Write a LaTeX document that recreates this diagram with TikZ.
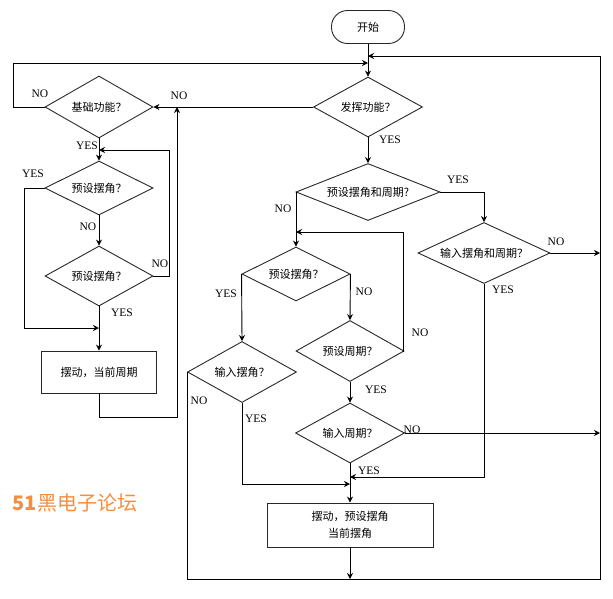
\documentclass[tikz,border=0pt]{standalone}
\usepackage{fontspec}
\setmainfont{Liberation Serif}
\newfontfamily\cjk{Noto Sans CJK SC}
\usetikzlibrary{arrows.meta,shapes.geometric,calc}
\definecolor{fcOrange}{RGB}{246,142,62}
\definecolor{fcLine}  {RGB}{ 40, 40, 40}

\begin{document}
\begin{tikzpicture}[x=1pt,y=-1pt,
  every node/.style={font=\fontsize{11}{13}\selectfont},
  >={Stealth[length=6pt,width=6pt]},
  line width=0.9pt,
  term/.style={draw=fcLine,rounded corners=16pt,minimum width=73pt,
               minimum height=33pt,font=\cjk\fontsize{11}{13}\selectfont},
  dec/.style ={draw=fcLine,diamond,aspect=2.2,inner sep=0pt,
               font=\cjk\fontsize{11}{13}\selectfont},
  proc/.style={draw=fcLine,rectangle,align=center,
               font=\cjk\fontsize{11}{17}\selectfont},
  lbl/.style ={inner sep=0pt,font=\fontsize{11.5}{13}\selectfont}
]
\useasboundingbox (0,0) rectangle (613,598);

% main column
\node[term] (start) at (368,27) {开始};
\node[dec,minimum width=109pt,minimum height=60pt] (fa)   at (368,107) {发挥功能？};
\node[dec,minimum width=144pt,minimum height=57pt] (ysAP) at (368,192) {预设摆角和周期?};
\node[dec,minimum width=132pt,minimum height=61pt] (srAP) at (484,253) {输入摆角和周期？};
\node[dec,minimum width=108pt,minimum height=54pt] (ysA)  at (296,274) {预设摆角？};
\node[dec,minimum width=108pt,minimum height=61pt] (ysP)  at (350,351) {预设周期？};
\node[dec,minimum width=109pt,minimum height=61pt] (srA)  at (242,372) {输入摆角？};
\node[dec,minimum width=109pt,minimum height=60pt] (srP)  at (350,433) {输入周期？};
\node[proc,minimum width=166pt,minimum height=44pt] (boxR) at (350,525) {摆动，预设摆角\\当前摆角};

% basic column
\node[dec,minimum width=108pt,minimum height=62pt] (jc)   at (99,107) {基础功能？};
\node[dec,minimum width=108pt,minimum height=54pt] (ysL1) at (99,188) {预设摆角？};
\node[dec,minimum width=108pt,minimum height=60pt] (ysL2) at (99,276) {预设摆角？};
\node[proc,minimum width=115pt,minimum height=42pt] (boxL) at (99,372) {摆动，当前周期};

\node[font=\cjk\fontsize{20}{22}\selectfont,text=fcOrange] (mark) at (75,503) {\textbf{51}黑电子论坛};

% bend points
\coordinate (inL)  at (368,63);
\coordinate (inR)  at (368,56);
\coordinate (lftL) at (13,63);
\coordinate (yL)   at (24,328);
\coordinate (rL)   at (169,150);
\coordinate (bL)   at (177,417);
\coordinate (rM)   at (403,232);
\coordinate (mjA)  at (350,477);
\coordinate (mjB)  at (350,484);
\coordinate (rtop) at (600,56);
\coordinate (rbot) at (600,579);

\draw[->] (start) -- (fa);
\draw[->] (fa) -- (jc);
\draw[->] (jc.west) -| (lftL) -- (inL);
\draw[->] (jc) -- (ysL1);
\draw[->] (ysL1.west) -| (yL) -- (yL -| boxL.north);
\draw[->] (ysL1) -- (ysL2);
\draw[->] (ysL2.east) -| (rL) -- (rL -| ysL1.north);
\draw[->] (ysL2) -- (boxL);
\draw[->] (boxL.south) |- (bL) -- (bL |- jc.east);

\draw[->] (fa) -- (ysAP);
\draw[->] (ysAP.east) -| (srAP.north);
\draw[->] (srAP.east) -- (srAP.east -| rtop);
\draw[->] (srAP.south) |- (mjA);
\draw[->] (ysAP.west) -| (ysA.north);
\draw[->] (ysA.west) -- (srA.north);
\draw[->] (ysA.east) -- (ysP.north);
\draw[->] (ysP.east) -| (rM) -- (rM -| ysA.north);
\draw[->] (ysP) -- (srP);
\draw[->] (srP.east) -- (srP.east -| rtop);
\draw[->] (srP) -- (boxR);
\draw[->] (srA.south) |- (mjB);
\draw[->] (boxR.south) -- (boxR.south |- rbot);
\draw[->] (srA.west) |- (rbot) -- (rtop) -- (inR);

% branch labels
\node[lbl] (n1)  at (179,96)  {NO};
\node[lbl] (n2)  at (40,94)   {NO};
\node[lbl] (y1)  at (87,146)  {YES};
\node[lbl] (y2)  at (33,174)  {YES};
\node[lbl] (n3)  at (88,227)  {NO};
\node[lbl] (n4)  at (160,264) {NO};
\node[lbl] (y3)  at (122,313) {YES};
\node[lbl] (y4)  at (390,140) {YES};
\node[lbl] (y5)  at (458,180) {YES};
\node[lbl] (n5)  at (556,242) {NO};
\node[lbl] (y6)  at (503,290) {YES};
\node[lbl] (n6)  at (283,209) {NO};
\node[lbl] (y7)  at (226,294) {YES};
\node[lbl] (n7)  at (364,292) {NO};
\node[lbl] (n8)  at (420,333) {NO};
\node[lbl] (y8)  at (376,390) {YES};
\node[lbl] (n9)  at (412,430) {NO};
\node[lbl] (y9)  at (369,471) {YES};
\node[lbl] (n10) at (199,401) {NO};
\node[lbl] (y10) at (256,419) {YES};
\end{tikzpicture}
\end{document}
